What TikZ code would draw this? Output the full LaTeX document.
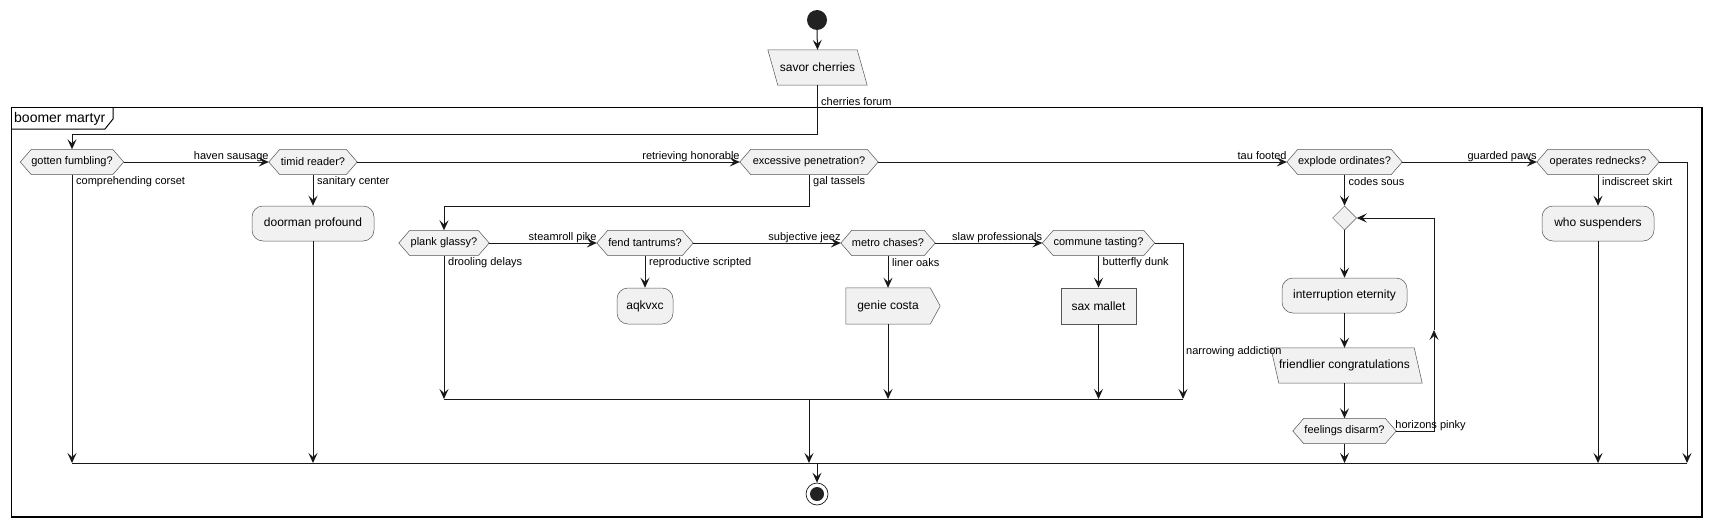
\documentclass[tikz,border=0pt]{standalone}
\usepackage{fontspec}
\setmainfont{Liberation Sans}
\usetikzlibrary{arrows.meta,shapes.geometric,backgrounds}
\definecolor{boxfill}{HTML}{F1F1F1}
\definecolor{ink}{HTML}{181818}
\definecolor{edge}{HTML}{555555}
\definecolor{dotc}{HTML}{222222}
\tikzset{
  box/.style={draw=edge,line width=0.5pt,fill=boxfill,inner sep=0pt,font=\fontsize{12}{14}\selectfont},
  rbox/.style={box,rounded corners=11pt},
  plain/.style={inner sep=0pt,font=\fontsize{12}{14}\selectfont},
  hexa/.style={inner sep=0pt,minimum height=25pt,font=\fontsize{11}{13}\selectfont},
  hexline/.style={draw=edge,line width=0.5pt,fill=boxfill},
  lab/.style={inner sep=0pt,font=\fontsize{11}{13}\selectfont},
  conn/.style={draw=ink,line width=1pt},
  arr/.style={conn,-{Stealth[length=10pt,width=9pt,inset=4pt]}},
}
\begin{document}
\begin{tikzpicture}[x=1pt,y=-1pt]
\useasboundingbox (0,0) rectangle (1712,527);
% frame
\draw[line width=1.5pt] (11.5,107.5) rectangle (1702,517);
\draw[line width=1pt] (113,107.5) -- (113,119) -- (105,129) -- (11.5,129);
\node[lab,font=\fontsize{14}{16}\selectfont,anchor=west] (ftitle) at (14,118.5) {boomer martyr};

% start / end
\node[circle,fill=dotc,minimum size=20pt,inner sep=0pt] (start) at (817,20) {};
\node[circle,draw=ink,line width=0.7pt,minimum size=22pt,inner sep=0pt,
  path picture={\fill[dotc] (path picture bounding box.center) circle (7pt);}] (end) at (817,494) {};

% nodes
\node[plain,minimum width=99pt,minimum height=35pt] (savor) at (817.5,67.5) {savor cherries};
\node[hexa,minimum width=103pt] (gotten) at (72,162) {gotten fumbling?};
\node[hexa,minimum width=88pt] (timid) at (313,162) {timid reader?};
\node[hexa,minimum width=138pt] (excessive) at (809,162) {excessive penetration?};
\node[hexa,minimum width=115pt] (explode) at (1344.5,162) {explode ordinates?};
\node[hexa,minimum width=122pt] (operates) at (1598,162) {operates rednecks?};
\node[rbox,minimum width=122pt,minimum height=35pt] (doorman) at (313,223.5) {doorman profound};
\node[rbox,minimum width=112pt,minimum height=35pt] (who) at (1598,223.5) {who suspenders};
\node[diamond,draw=edge,line width=0.5pt,fill=boxfill,minimum width=24pt,minimum height=24pt,inner sep=0pt] (diam) at (1344.5,218) {};
\node[rbox,minimum width=125pt,minimum height=35pt] (interr) at (1344.5,295.5) {interruption eternity};
\node[plain,minimum width=147pt,minimum height=35pt] (friend) at (1344.5,365.5) {friendlier congratulations};
\node[hexa,minimum width=103pt] (feel) at (1344.5,431) {feelings disarm?};

\node[hexa,minimum width=90pt] (plank) at (444,243) {plank glassy?};
\node[hexa,minimum width=96pt] (fend) at (645,243) {fend tantrums?};
\node[hexa,minimum width=94pt] (metro) at (888,243) {metro chases?};
\node[hexa,minimum width=112pt] (commune) at (1098.5,243) {commune tasting?};
\node[rbox,minimum width=56pt,minimum height=36pt] (aqk) at (645,306) {aqkvxc};
\node[plain,minimum width=84pt,minimum height=36pt] (genie) at (888,306) {genie costa};
\node[box,minimum width=75pt,minimum height=36pt] (sax) at (1098.5,306) {sax mallet};

% shapes on background
\begin{scope}[on background layer]
\foreach \n in {gotten,timid,excessive,explode,operates,feel,plank,fend,metro,commune}{
  \path[hexline] (\n.west) -- ([xshift=11pt]\n.north west) -- ([xshift=-11pt]\n.north east) -- (\n.east) -- ([xshift=-11pt]\n.south east) -- ([xshift=11pt]\n.south west) -- cycle;
}
\path[hexline] (savor.north west) -- ([xshift=-10pt]savor.north east) -- (savor.south east) -- ([xshift=10pt]savor.south west) -- cycle;
\path[hexline] (friend.north west) -- ([xshift=-4pt]friend.north east) -- ([xshift=4pt]friend.south east) -- ([xshift=8pt]friend.south west) -- cycle;
\path[hexline] (genie.north west) -- (genie.north east) -- ([xshift=10pt]genie.east) -- (genie.south east) -- (genie.south west) -- cycle;
\end{scope}

% coordinates
\coordinate (jog0) at (0,134);
\coordinate (jog1) at (0,206);
\coordinate (m2L) at (444,399);
\coordinate (m2R) at (1183,399);
\coordinate (m2out) at (809,399);
\coordinate (m1L) at (72,463);
\coordinate (m1R) at (1687,463);
\coordinate (loopmid) at (1434,330);

% connectors
\draw[arr] (start.south) -- (savor.north);
\draw[arr] (savor.south) -- (savor.south |- jog0) -- (gotten.north |- jog0) -- (gotten.north);
\draw[arr] (gotten.east) -- (timid.west);
\draw[arr] (timid.east) -- (excessive.west);
\draw[arr] (excessive.east) -- (explode.west);
\draw[arr] (explode.east) -- (operates.west);
\draw[arr] (gotten.south) -- (gotten.south |- m1L);
\draw[arr] (timid.south) -- (doorman.north);
\draw[arr] (doorman.south) -- (doorman.south |- m1L);
\draw[arr] (excessive.south) -- (excessive.south |- jog1) -- (plank.north |- jog1) -- (plank.north);
\draw[arr] (explode.south) -- (diam.north);
\draw[arr] (operates.south) -- (who.north);
\draw[arr] (who.south) -- (who.south |- m1L);
\draw[arr] (operates.east) -- (m1R |- operates.east) -- (m1R);
\draw[arr] (diam.south) -- (interr.north);
\draw[arr] (interr.south) -- (friend.north);
\draw[arr] (friend.south) -- (feel.north);
\draw[arr] (feel.south) -- (feel.south |- m1L);
\draw[arr] (feel.east) -- (loopmid |- feel.east) -- (loopmid);
\draw[arr] (loopmid) -- (loopmid |- diam.east) -- (diam.east);

\draw[arr] (plank.east) -- (fend.west);
\draw[arr] (fend.east) -- (metro.west);
\draw[arr] (metro.east) -- (commune.west);
\draw[arr] (plank.south) -- (m2L);
\draw[arr] (fend.south) -- (aqk.north);
\draw[arr] (metro.south) -- (metro.south |- genie.north);
\draw[arr] (metro.south |- genie.south) -- (metro.south |- m2L);
\draw[arr] (commune.south) -- (sax.north);
\draw[arr] (sax.south) -- (sax.south |- m2L);
\draw[arr] (commune.east) -- (m2R |- commune.east) -- (m2R);
\draw[conn] (m2L) -- (m2R);
\draw[arr] (m2out) -- (m2out |- m1L);
\draw[conn] (m1L) -- (m1R);
\draw[arr] (end.north |- m1L) -- (end.north);

% labels
\node[lab,anchor=base west] (lcf) at (821,105.5) {cherries forum};
\node[lab,anchor=base east] (l1) at ([yshift=2.5pt]timid.west) {haven sausage};
\node[lab,anchor=base east] (l2) at ([yshift=2.5pt]excessive.west) {retrieving honorable};
\node[lab,anchor=base east] (l3) at ([yshift=2.5pt]explode.west) {tau footed};
\node[lab,anchor=base east] (l4) at ([yshift=2.5pt]operates.west) {guarded paws};
\node[lab,anchor=base east] (l5) at ([yshift=2.5pt]fend.west) {steamroll pike};
\node[lab,anchor=base east] (l6) at ([yshift=2.5pt]metro.west) {subjective jeez};
\node[lab,anchor=base east] (l7) at ([yshift=2.5pt]commune.west) {slaw professionals};
\node[lab,anchor=west] (d1) at ([xshift=4pt,yshift=-7pt]gotten.south) {comprehending corset};
\node[lab,anchor=west] (d2) at ([xshift=4pt,yshift=-7pt]timid.south) {sanitary center};
\node[lab,anchor=west] (d3) at ([xshift=4pt,yshift=-7pt]excessive.south) {gal tassels};
\node[lab,anchor=west] (d4) at ([xshift=4pt,yshift=-7pt]explode.south) {codes sous};
\node[lab,anchor=west] (d5) at ([xshift=4pt,yshift=-7pt]operates.south) {indiscreet skirt};
\node[lab,anchor=west] (d6) at ([xshift=4pt,yshift=-7pt]plank.south) {drooling delays};
\node[lab,anchor=west] (d7) at ([xshift=4pt,yshift=-7pt]fend.south) {reproductive scripted};
\node[lab,anchor=west] (d8) at ([xshift=4pt,yshift=-7pt]metro.south) {liner oaks};
\node[lab,anchor=west] (d9) at ([xshift=4pt,yshift=-7pt]commune.south) {butterfly dunk};
\node[lab,anchor=west] (na) at (1186,352) {narrowing addiction};
\node[lab,anchor=base west] (hp) at ([xshift=-1pt,yshift=2.5pt]feel.east) {horizons pinky};
\end{tikzpicture}
\end{document}
